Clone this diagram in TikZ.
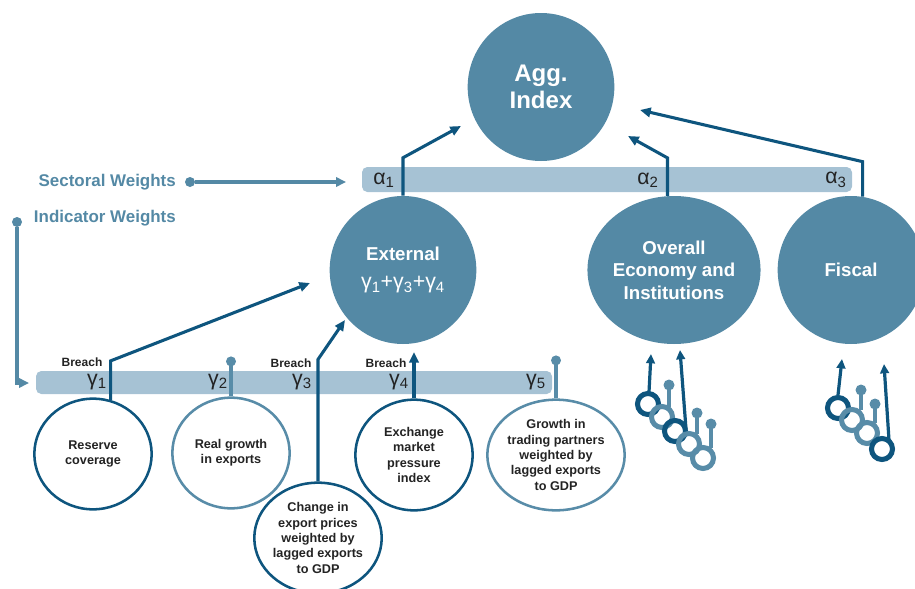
\documentclass[tikz,border=0pt]{standalone}
\usepackage{fontspec}
\setmainfont{Liberation Sans}
\usetikzlibrary{arrows.meta}
\usetikzlibrary{shapes.geometric}
\definecolor{aggblue}{RGB}{84,137,165}
\definecolor{barblue}{RGB}{166,194,212}
\definecolor{linkblue}{RGB}{14,85,126}
\definecolor{stemblue}{RGB}{88,140,168}
\definecolor{inkgray}{RGB}{35,35,35}

\tikzset{
  sector/.style={ellipse, fill=aggblue, text=white, minimum width=110pt, minimum height=111pt, inner sep=0pt, align=center, font=\fontsize{14}{17}\selectfont\bfseries},
  indicator/.style={ellipse, draw, line width=1.9pt, fill=white, minimum width=88pt, minimum height=83pt, inner sep=0pt, align=center, text=inkgray, font=\fontsize{9.5}{11.5}\selectfont\bfseries},
  weightbar/.style={rectangle, rounded corners=4pt, fill=barblue, inner sep=0pt},
  weightlabel/.style={text=inkgray, inner sep=0pt, font=\fontsize{16}{16}\selectfont},
  breach/.style={text=inkgray, inner sep=0pt, font=\fontsize{9}{9}\selectfont\bfseries},
  heading/.style={text=aggblue, anchor=east, inner sep=0pt, font=\fontsize{12.7}{12.7}\selectfont\bfseries},
  link/.style={draw=linkblue, line width=2.3pt, -{Triangle[length=8pt,width=7pt]}},
  pointer/.style={draw=aggblue, line width=2.4pt, -{Triangle[length=7.5pt,width=7pt]}},
  stem/.style={draw=stemblue, line width=2.4pt},
  dot/.style={circle, fill=stemblue, inner sep=0pt, minimum size=7.5pt},
  ringarrow/.style={draw=linkblue, line width=2.4pt, -{Triangle[length=7pt,width=6.5pt]}},
  ringstem/.style={draw=stemblue, line width=2.4pt},
  darkring/.style={draw=linkblue, line width=3.8pt},
  lightring/.style={draw=stemblue, line width=3.8pt},
}

\begin{document}
\begin{tikzpicture}[x=0.75pt,y=0.75pt,yscale=-1,xscale=1]
\useasboundingbox (0,0) rectangle (915,589);

% Sector circles
\node [sector, font=\fontsize{18}{20}\selectfont\bfseries] (agg) at (541,87) {Agg.\\Index};
\node [sector] (ext) at (403,270) {External\\[4pt]{\fontsize{16}{16}\selectfont\mdseries γ\textsubscript{1}+γ\textsubscript{3}+γ\textsubscript{4}}};
\node [sector] (ovr) at (674,270) {Overall\\Economy and\\Institutions};
\node [sector] (fis) at (851,270) {Fiscal};

% Weight bars
\node [weightbar, minimum width=367.5pt, minimum height=18.75pt] (secbar) at (607,179.5) {};
\node [weightbar, minimum width=387pt, minimum height=17.25pt] (indbar) at (294,382.5) {};

% Text Node
\node [weightlabel] (a1) at (384,180) {α\textsubscript{1}};
\node [weightlabel] (a2) at (648,180) {α\textsubscript{2}};
\node [weightlabel] (a3) at (836,180) {α\textsubscript{3}};
\node [weightlabel] (g1) at (97,382) {γ\textsubscript{1}};
\node [weightlabel] (g2) at (218,382) {γ\textsubscript{2}};
\node [weightlabel] (g3) at (302,382) {γ\textsubscript{3}};
\node [weightlabel] (g4) at (399,382) {γ\textsubscript{4}};
\node [weightlabel] (g5) at (536,382) {γ\textsubscript{5}};
\node [breach] (br1) at (82,362) {Breach};
\node [breach] (br3) at (291,363) {Breach};
\node [breach] (br4) at (386,363) {Breach};
\node [heading] (secw) at (176,182) {Sectoral Weights};
\node [heading] (indw) at (176,218) {Indicator Weights};

% Weight pointers
\node [dot, fill=aggblue] (secdot) at (190,182) {};
\coordinate (secend) at (346,182);
\draw [pointer] (secdot) -- (secend);
\node [dot, fill=aggblue] (inddot) at (17,222) {};
\coordinate (indend) at (29,383);
\draw [pointer] (inddot) |- (indend);

% Indicator circles
\node [indicator, draw=linkblue] (res) at (93,454) {Reserve\\coverage};
\node [indicator, draw=stemblue] (rgx) at (231,453) {Real growth\\in exports};
\node [indicator, draw=linkblue] (chg) at (318,538) {Change in\\export prices\\weighted by\\lagged exports\\to GDP};
\node [indicator, draw=linkblue] (emp) at (414,455) {Exchange\\market\\pressure\\index};
\node [indicator, draw=stemblue] (gtp) at (556,455) {Growth in\\trading partners\\weighted by\\lagged exports\\to GDP};

% Indicator links
\coordinate (extinA) at (310,283);
\coordinate (extinB) at (345,320);
\coordinate (extinC) at (414,352);
\draw [link] (res.72) -- ++(0,-39) -- (extinA);
\draw [stem] (rgx.north) -- ++(0,-35) node [dot] (rgxdot) {};
\draw [link] (chg.north) -- ++(0,-122) -- (extinB);
\draw [link] (emp.north) -- (extinC);
\draw [stem] (gtp.north) -- ++(0,-38) node [dot] (gtpdot) {};

% Sector links
\coordinate (aggin1) at (461,126);
\coordinate (aggin2) at (628,136);
\coordinate (aggin3) at (640,110);
\draw [link] (ext.north) -- ++(0,-38) -- (aggin1);
\draw [link] (ovr.95) -- ++(0,-38) -- (aggin2);
\draw [link] (fis.81) -- ++(0,-35) -- (aggin3);

% Ring icon, overall economy
\draw [ringarrow] (649,392) -- (651,354);
\draw [ringarrow] (686,429) -- (680,350);
\draw [ringstem] (669,385) -- (669,407);
\fill [stemblue] (669,385) circle [radius=5.5];
\draw [ringstem] (697,413) -- (697,434);
\fill [stemblue] (697,413) circle [radius=5.5];
\draw [ringstem] (711,424) -- (711,448);
\fill [stemblue] (711,424) circle [radius=5.5];
\draw [darkring] (648,404) circle [radius=10.5];
\draw [lightring] (662,417) circle [radius=10.5];
\draw [darkring] (675,431) circle [radius=10.5];
\draw [lightring] (689,444) circle [radius=10.5];
\draw [lightring] (703,458) circle [radius=10.5];

% Ring icon, fiscal
\draw [ringarrow] (838,395) -- (842,359);
\draw [ringarrow] (889,440) -- (884,364);
\draw [ringstem] (861,390) -- (861,410);
\fill [stemblue] (861,390) circle [radius=5.5];
\draw [ringstem] (875,404) -- (875,423);
\fill [stemblue] (875,404) circle [radius=5.5];
\draw [darkring] (838,408) circle [radius=10.5];
\draw [lightring] (852,420) circle [radius=10.5];
\draw [lightring] (867,433) circle [radius=10.5];
\draw [darkring] (882,449) circle [radius=10.5];

\end{tikzpicture}
\end{document}
